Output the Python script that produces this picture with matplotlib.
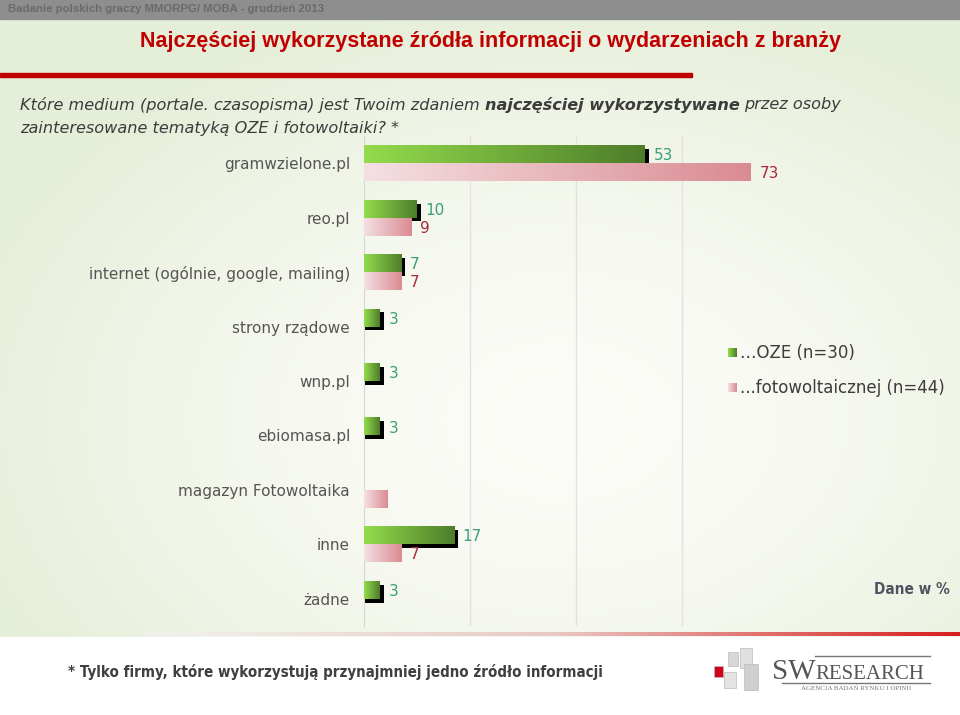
import matplotlib
matplotlib.use("Agg")
import matplotlib.pyplot as plt
import numpy as np
from matplotlib.colors import LinearSegmentedColormap
from matplotlib.patches import Rectangle

# dane
categories = ["gramwzielone.pl", "reo.pl", "internet (ogólnie, google, mailing)",
              "strony rządowe", "wnp.pl", "ebiomasa.pl", "magazyn Fotowoltaika",
              "inne", "żadne"]
oze = [53, 10, 7, 3, 3, 3, 0, 17, 3]
foto = [73, 9, 7, 0, 0, 0, 4.5, 7, 0]
oze_labels = ["53", "10", "7", "3", "3", "3", "", "17", "3"]
foto_labels = ["73", "9", "7", "", "", "", "", "7", ""]
legend_names = ["\u2026OZE (n=30)", "...fotowoltaicznej (n=44)"]

W, H = 960, 715
fig = plt.figure(figsize=(W / 100, H / 100), dpi=100)
narrow = dict(family="DejaVu Sans", stretch="condensed")

# tło w pikselach
bg = fig.add_axes([0, 0, 1, 1], zorder=-10)
bg.set_xlim(0, W)
bg.set_ylim(H, 0)
bg.axis("off")
yy, xx = np.mgrid[0:H:4, 0:W:4]
d = np.sqrt(((xx - 560) / 620.0) ** 2 + ((yy - 420) / 430.0) ** 2)
d = np.clip(d, 0, 1) ** 1.6
c0 = np.array([0.988, 0.988, 0.972])
c1 = np.array([0.90, 0.935, 0.85])
img = c0[None, None, :] * (1 - d[..., None]) + c1[None, None, :] * d[..., None]
bg.imshow(img, extent=[0, W, H, 0], aspect="auto", zorder=0)

# górny pasek
bg.add_patch(Rectangle((0, 0), W, 19, color="#8E8E8E", zorder=1))
bg.text(8, 9.5, "Badanie polskich graczy MMORPG/ MOBA - grudzień 2013", fontsize=8.2,
        fontweight="bold", color="#6A6A6A", va="center", ha="left",
        family=["Liberation Sans", "DejaVu Sans"], zorder=2)

# tytuł
bg.text(490, 42, "Najczęściej wykorzystane źródła informacji o wydarzeniach z branży",
        fontsize=15.5, fontweight="bold", color="#C00000", ha="center", va="center",
        family=["Liberation Sans", "DejaVu Sans"], zorder=2)
bg.add_patch(Rectangle((0, 73), 692, 4, color="#C00000", zorder=2))

# podtytuł
r = fig.canvas.get_renderer()
sub_kw = dict(fontsize=11.6, color="#3C3C3C", style="italic", va="center", ha="left",
              family="DejaVu Sans", zorder=2)
t1 = bg.text(20, 105, "Które medium (portale. czasopisma) jest Twoim zdaniem", **sub_kw)
x1 = t1.get_window_extent(r).x1 + 5
t2 = bg.text(x1, 105, "najczęściej wykorzystywane", fontweight="bold", **sub_kw)
x2 = t2.get_window_extent(r).x1 + 5
bg.text(x2, 105, "przez osoby", **sub_kw)
bg.text(20, 128, "zainteresowane tematyką OZE i fotowoltaiki? *", **sub_kw)

# dolny panel
bg.add_patch(Rectangle((0, 637), W, 78, color="white", zorder=1))
line = np.linspace(0, 1, 200)
lc = LinearSegmentedColormap.from_list("l", ["#F2F2EC", "#E9C9C4", "#D81E1E"])
bg.imshow(lc(line)[None, :, :3], extent=[145, W, 636, 632], aspect="auto", zorder=2)
bg.text(68, 672, "* Tylko firmy, które wykorzystują przynajmniej jedno źródło informacji",
        fontsize=10.8, fontweight="bold", color="#3F3F3F", va="center", ha="left",
        zorder=2, **narrow)
bg.text(950, 590, "Dane w %", fontsize=11, fontweight="bold", color="#4F5460",
        ha="right", va="center", zorder=2, **narrow)

# logo
for (lx, ly, lw, lh, col) in [(728, 652, 10, 14, "#D8D8D8"), (740, 648, 12, 20, "#E0E0E0"),
                              (744, 664, 14, 26, "#CFCFCF"), (724, 672, 12, 16, "#E4E4E4"),
                              (714, 666, 9, 11, "#D0021B")]:
    bg.add_patch(Rectangle((lx, ly), lw, lh, facecolor=col, edgecolor="#BBBBBB", lw=0.5, zorder=3))
bg.text(772, 679, "SW", fontsize=21, color="#555555", family="Liberation Serif",
        va="baseline", ha="left", zorder=3)
bg.text(815, 679, "RESEARCH", fontsize=15, color="#555555", family="Liberation Serif",
        va="baseline", ha="left", zorder=3)
bg.plot([815, 930], [656, 656], color="#777777", lw=1, zorder=3)
bg.plot([782, 930], [683, 683], color="#777777", lw=1, zorder=3)
bg.text(856, 688, "AGENCJA BADAŃ RYNKU I OPINII", fontsize=5, color="#777777",
        family="Liberation Serif", ha="center", va="center", zorder=3)

# legenda
gcm = LinearSegmentedColormap.from_list("g", ["#93DC4C", "#4E7D2A"])
pcm = LinearSegmentedColormap.from_list("p", ["#F4E0E3", "#DA8B92"])
for i, (name, cm) in enumerate(zip(legend_names, [gcm, pcm])):
    ly = 353 + i * 35
    bg.imshow(cm(np.linspace(0, 1, 20))[None, :, :3], extent=[728, 737, ly + 4.5, ly - 4.5],
              aspect="auto", zorder=3)
    bg.text(740, ly, name, fontsize=12, color="#3C3C3C", va="center", ha="left",
            family="DejaVu Sans", zorder=3)

# wykres
ax_left, ax_top, ax_bot = 364, 136, 626
xmax = 100
ax = fig.add_axes([ax_left / W, 1 - ax_bot / H, (xmax * 5.3) / W, (ax_bot - ax_top) / H])
ax.patch.set_alpha(0)
n = len(categories)
y = np.arange(n)
h = 0.33
dx, dy = 0.75, 0.07

ax.barh(y - h / 2 + dy, [v + dx if v > 0 else 0 for v in oze], h, color="black", zorder=2)
grad = np.linspace(0, 1, 256)[None, :]
pb = ax.barh(y + h / 2, foto, h, color="none", zorder=3)
gb = ax.barh(y - h / 2, oze, h, color="none", zorder=4)
for bars, vals, cm, z in [(pb, foto, pcm, 3), (gb, oze, gcm, 4)]:
    for p, v in zip(bars, vals):
        if v <= 0:
            continue
        x0, y0 = p.get_x(), p.get_y()
        im = ax.imshow(grad, cmap=cm, extent=[x0, x0 + v, y0 + h, y0], aspect="auto", zorder=z)
        im.set_clip_path(p)

for i in range(n):
    if oze_labels[i]:
        ax.text(oze[i] + 1.6, i - h / 2 + 0.03, oze_labels[i], color="#3A9E78", fontsize=11,
                va="center", ha="left", family="DejaVu Sans", zorder=5)
    if foto_labels[i]:
        ax.text(foto[i] + 1.6, i + h / 2 + 0.03, foto_labels[i], color="#A8283A", fontsize=11,
                va="center", ha="left", family="DejaVu Sans", zorder=5)

ax.set_xlim(0, xmax)
ax.set_ylim(n - 0.5, -0.5)
ax.set_xticks([20, 40, 60])
ax.xaxis.grid(True, color="#E2E2E2", lw=1)
ax.set_axisbelow(True)
ax.tick_params(axis="x", length=0, labelbottom=False)
ax.set_yticks(y)
ax.set_yticklabels(categories, fontsize=11, color="#555555", family="DejaVu Sans")
ax.tick_params(axis="y", length=0, pad=10)
for s in ["top", "right", "bottom"]:
    ax.spines[s].set_visible(False)
ax.spines["left"].set_color("#D6D6D6")

fig.savefig("out.png", dpi=100)
